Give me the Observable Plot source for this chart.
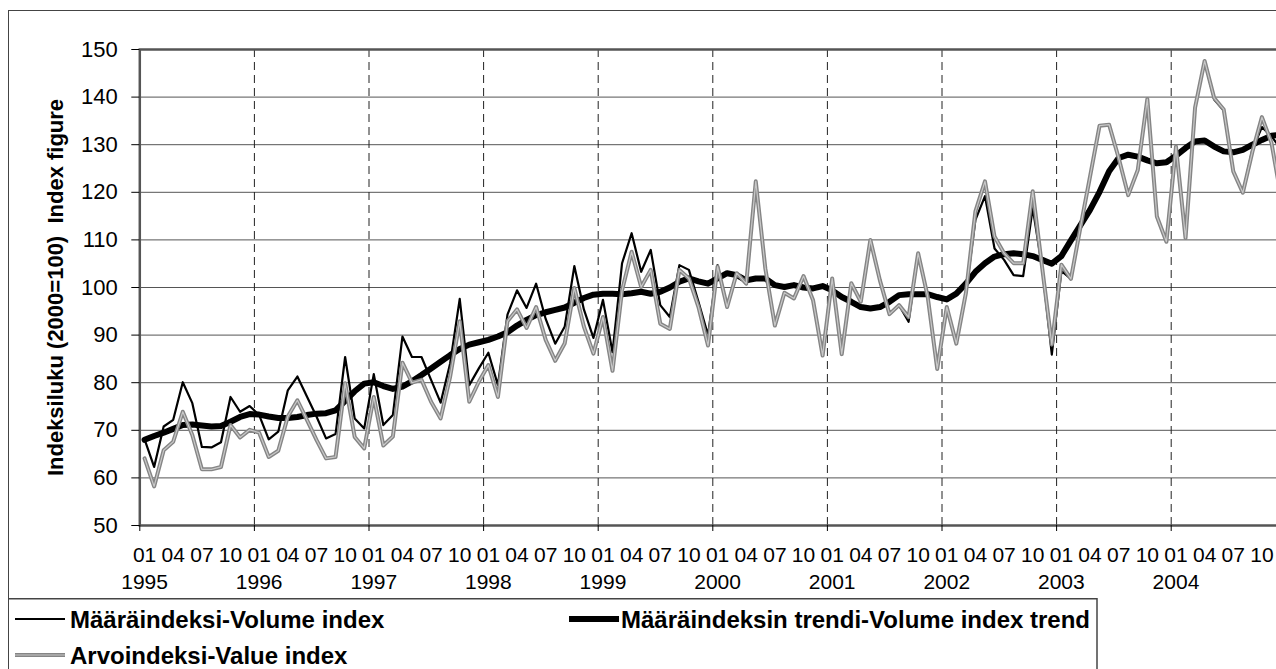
<!DOCTYPE html>
<html>
<head>
<meta charset="utf-8">
<script src="https://cdn.jsdelivr.net/npm/d3@7"></script>
<script src="https://cdn.jsdelivr.net/npm/@observablehq/plot@0.6"></script>
<style>
html, body { margin: 0; padding: 0; background: #fff; overflow: hidden; width: 1276px; height: 669px; }
#wrap { position: relative; width: 1290px; height: 669px; font-family: "Liberation Sans", Arial, sans-serif; }
#chart { position: absolute; left: 0; top: 0; }
#legend { position: absolute; left: 0; top: 598px; }
#outer { position: absolute; left: 8px; top: 10px; width: 1400px; height: 800px; border-left: 1.5px solid #444; border-top: 1.5px solid #444; pointer-events: none; }
</style>
</head>
<body>
<div id="wrap">
  <div id="chart"></div>
  <svg id="legend" width="1290" height="71"></svg>
  <div id="outer"></div>
</div>
<script>
// ---- data (monthly, Jan 1995 .. Dec 2004) ----
const years = [1995, 1996, 1997, 1998, 1999, 2000, 2001, 2002, 2003, 2004];
const monthLabels = ["01", "04", "07", "10"];
const yTicks = [50, 60, 70, 80, 90, 100, 110, 120, 130, 140, 150];
const yTitle = "Indeksiluku (2000=100)  Index figure";
const seriesNames = ["Määräindeksi-Volume index", "Määräindeksin trendi-Volume index trend", "Arvoindeksi-Value index"];

const volume = [
  68.1, 62.3, 70.8, 72.2, 80.1, 75.7, 66.5, 66.4, 67.5, 77.0, 73.9, 75.1,
  73.2, 68.1, 69.7, 78.4, 81.3, 77.1, 72.9, 68.3, 69.2, 85.4, 72.5, 70.4,
  81.8, 71.1, 73.2, 89.7, 85.4, 85.4, 80.6, 75.8, 84.1, 97.6, 79.5, 83.0,
  86.3, 79.5, 94.3, 99.4, 95.7, 100.8, 93.4, 88.2, 91.8, 104.5, 95.4, 89.4,
  97.4, 86.4, 105.1, 111.4, 103.3, 107.9, 96.3, 93.8, 104.7, 103.7, 97.0, 90.0,
  104.7, 95.9, 103.0, 100.8, 122.0, 104.0, 92.0, 98.9, 97.7, 102.4, 97.3, 85.7,
  101.7, 86.0, 100.9, 97.0, 110.0, 101.5, 94.4, 96.3, 92.8, 107.2, 98.1, 82.9,
  95.9, 88.2, 98.8, 114.2, 119.2, 108.2, 105.8, 102.6, 102.4, 116.7, 104.0, 85.9,
  103.5, 101.8, 112.7, 123.3, 134.0, 134.2, 127.2, 119.4, 124.7, 139.6, 114.9, 109.6,
  129.6, 110.4, 137.8, 147.5, 139.5, 137.2, 124.4, 119.9, 129.0, 133.7, 131.8, 129.0
];

const value = [
  64.1, 58.2, 65.8, 67.6, 73.9, 69.0, 61.8, 61.8, 62.3, 71.1, 68.5, 70.1,
  69.5, 64.4, 65.7, 72.9, 76.3, 72.2, 68.0, 64.1, 64.4, 79.9, 68.6, 66.2,
  77.0, 66.8, 68.7, 84.2, 80.0, 80.6, 76.0, 72.5, 81.3, 92.9, 76.0, 80.2,
  83.7, 77.0, 92.9, 95.4, 91.5, 95.9, 89.0, 84.6, 88.3, 99.9, 91.8, 86.1,
  93.8, 82.5, 99.4, 107.5, 100.1, 103.7, 92.4, 91.3, 103.7, 101.9, 95.9, 87.8,
  104.4, 95.9, 103.0, 100.8, 122.3, 104.0, 92.0, 98.9, 97.7, 102.4, 97.3, 85.7,
  101.9, 86.0, 100.9, 97.0, 110.0, 101.5, 94.4, 96.3, 93.8, 107.2, 98.1, 82.9,
  95.9, 88.2, 98.8, 116.0, 122.3, 110.7, 107.2, 105.1, 105.1, 120.2, 104.0, 88.0,
  104.8, 101.8, 112.7, 123.3, 134.0, 134.2, 127.2, 119.4, 124.7, 139.6, 114.9, 109.6,
  129.6, 110.4, 137.8, 147.6, 139.8, 137.4, 124.4, 119.9, 128.5, 135.8, 130.4, 119.0
];

const trend = [
  68.0, 68.8, 69.5, 70.3, 71.1, 71.2, 71.0, 70.8, 70.9, 71.8, 72.8, 73.4,
  73.3, 72.9, 72.6, 72.6, 72.8, 73.2, 73.5, 73.6, 74.2, 76.2, 78.2, 79.8,
  80.1, 79.3, 78.7, 79.2, 80.3, 81.6, 83.0, 84.4, 85.8, 87.1, 88.0, 88.5,
  89.0, 89.7, 90.6, 92.0, 93.2, 94.2, 94.8, 95.3, 95.8, 96.8, 97.8, 98.5,
  98.7, 98.7, 98.6, 98.8, 99.1, 98.7, 99.1, 100.0, 101.2, 101.9, 101.3, 100.8,
  101.9, 103.0, 102.6, 101.5, 101.9, 101.9, 100.5, 100.1, 100.5, 100.0, 99.8, 100.3,
  99.4, 98.0, 97.0, 95.9, 95.6, 95.9, 97.0, 98.4, 98.6, 98.6, 98.6, 98.0,
  97.5, 98.7, 100.8, 103.3, 105.1, 106.5, 107.0, 107.2, 107.0, 106.6, 105.8, 105.0,
  106.6, 109.9, 113.1, 116.3, 120.1, 124.4, 127.2, 127.9, 127.5, 126.7, 126.1, 126.3,
  127.7, 129.3, 130.7, 130.9, 129.6, 128.6, 128.4, 128.9, 130.0, 131.0, 131.9, 132.1
];

// ---- build ----
const n = volume.length;
const rows = d3.range(n).map(i => ({ i, volume: volume[i], value: value[i], trend: trend[i] }));
const quarterTicks = d3.range(0, n, 3);
const janTicks = d3.range(0, n, 12);
const yearBounds = d3.range(1, years.length).map(k => k * 12 - 0.5);
const font = "Liberation Sans, Arial, sans-serif";
const grayOuter = "#858585", grayInner = "#c8c8c8";

const plot = Plot.plot({
  width: 1290,
  height: 598,
  marginLeft: 139.3,
  marginRight: 4.7,
  marginTop: 49,
  marginBottom: 73,
  style: { fontFamily: font, background: "transparent", color: "#000" },
  x: { domain: [-0.5, n - 0.5] },
  y: { domain: [50, 150] },
  marks: [
    Plot.gridY(yTicks.slice(1, -1), { stroke: "#555", strokeOpacity: 1, strokeWidth: 1 }),
    Plot.ruleX(yearBounds, { stroke: "#222", strokeWidth: 1, strokeDasharray: "8,5" }),
    Plot.frame({ stroke: "#555", strokeWidth: 2.5 }),
    Plot.axisY({ ticks: yTicks, tickSize: 8, tickPadding: 14, fontSize: 22, label: null }),
    Plot.axisX({ ticks: quarterTicks, tickSize: 0, tickPadding: 21.5, fontSize: 21, label: null,
                 tickFormat: i => monthLabels[(i % 12) / 3] }),
    Plot.axisX({ ticks: janTicks, tickSize: 0, tickPadding: 48.5, fontSize: 21, label: null,
                 tickFormat: i => String(years[i / 12]) }),
    Plot.axisX({ ticks: [-0.5, ...yearBounds], tickSize: 6, tickFormat: () => "", label: null }),
    Plot.lineY(rows, { x: "i", y: "volume", stroke: "#000", strokeWidth: 2.2 }),
    Plot.lineY(rows, { x: "i", y: "trend", stroke: "#000", strokeWidth: 6 }),
    Plot.lineY(rows, { x: "i", y: "value", stroke: grayOuter, strokeWidth: 4 }),
    Plot.lineY(rows, { x: "i", y: "value", stroke: grayInner, strokeWidth: 1.2 }),
    Plot.text([yTitle], { text: d => d, frameAnchor: "left", textAnchor: "middle", rotate: -90,
                          dx: -84, fontSize: 22, fontWeight: "bold" })
  ]
});
document.getElementById("chart").appendChild(plot);

// ---- legend ----
const lg = d3.select("#legend");
lg.append("line").attr("x1", 8).attr("x2", 1097).attr("y1", 0.75).attr("y2", 0.75).attr("stroke", "#444").attr("stroke-width", 1.5);
lg.append("line").attr("x1", 1097).attr("x2", 1097).attr("y1", 0).attr("y2", 71).attr("stroke", "#444").attr("stroke-width", 1.5);

function legText(x, y, s, anchor) {
  return lg.append("text").attr("x", x).attr("y", y).attr("dominant-baseline", "central")
    .attr("text-anchor", anchor).attr("font-family", font).attr("font-size", 24)
    .attr("font-weight", "bold").text(s);
}
// row 1 item 1
lg.append("line").attr("x1", 15).attr("x2", 65).attr("y1", 21).attr("y2", 21).attr("stroke", "#000").attr("stroke-width", 2.2);
legText(70, 21, seriesNames[0], "start");
// row 1 item 2
const t2 = legText(1090, 21, seriesNames[1], "end");
const w2 = t2.node().getComputedTextLength();
lg.append("line").attr("x1", 1090 - w2 - 52).attr("x2", 1090 - w2 - 2).attr("y1", 21).attr("y2", 21).attr("stroke", "#000").attr("stroke-width", 6);
// row 2
lg.append("line").attr("x1", 15).attr("x2", 65).attr("y1", 57).attr("y2", 57).attr("stroke", grayOuter).attr("stroke-width", 4);
lg.append("line").attr("x1", 15).attr("x2", 65).attr("y1", 57).attr("y2", 57).attr("stroke", grayInner).attr("stroke-width", 1.2);
legText(70, 57, seriesNames[2], "start");
</script>
</body>
</html>
